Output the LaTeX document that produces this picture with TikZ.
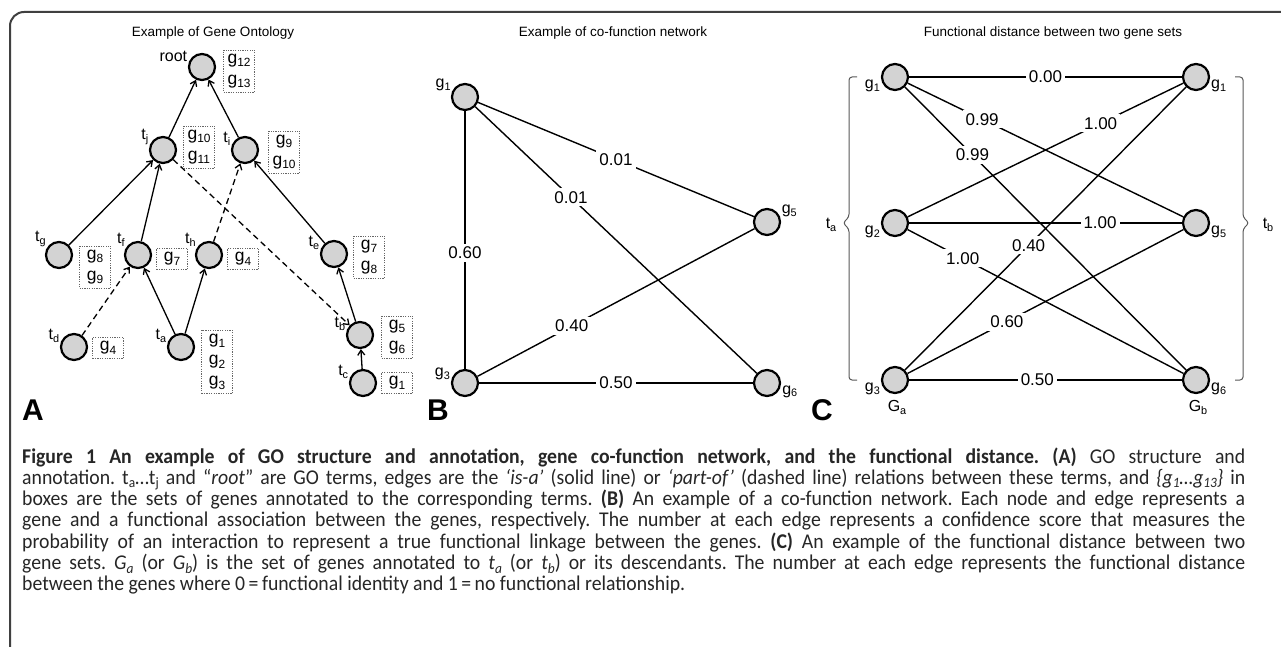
\documentclass[tikz,border=0pt]{standalone}
\usepackage{fontspec}
\setmainfont{Liberation Sans}
\newfontfamily\capfont{Carlito}[FakeStretch=0.94]
\usepackage{graphicx}
\usetikzlibrary{arrows.meta}
\definecolor{nodegray}{RGB}{211,211,211}
\newcommand{\sbs}[1]{\raisebox{-0.35ex}{\scalebox{0.68}{#1}}}
\newcommand{\capjust}[1]{\makebox[1223pt][s]{#1}}
\frenchspacing

\begin{document}
\begin{tikzpicture}[x=1pt, y=-1pt,
  gnode/.style={draw, circle, fill=nodegray, line width=2.2pt, minimum size=26pt, inner sep=0pt},
  lab/.style={font=\fontsize{16}{16}\selectfont, inner sep=1pt},
  genebox/.style={draw=black!60, line width=0.8pt, dash pattern=on 1.2pt off 1.2pt, align=center,
    font=\fontsize{17.5}{21}\selectfont, minimum width=31pt, inner xsep=3pt, inner ysep=4pt},
  isa/.style={line width=1.3pt, -{Straight Barb[length=5pt,width=7pt]}},
  partof/.style={isa, dash pattern=on 6pt off 4pt},
  fedge/.style={line width=1.4pt},
  wlab/.style={fill=white, inner sep=3pt, font=\fontsize{17}{17}\selectfont},
  ttl/.style={font=\fontsize{13.5}{14}\selectfont},
  plet/.style={font=\fontsize{30}{30}\selectfont\bfseries},
  brk/.style={line width=1pt, black!65, rounded corners=3pt},
  capline/.style={anchor=base west, inner sep=0pt, text=black!85, font=\capfont\fontsize{21}{21}\selectfont}]
\useasboundingbox (0,0) rectangle (1281,647);
\fill[white] (0,0) rectangle (1281,647);
\draw[line width=2pt, black!75, rounded corners=14pt] (10,647) -- (10,12) -- (1281,12);

% panel A: gene ontology
\node[ttl] (titleA) at (213,33) {Example of Gene Ontology};
\node[gnode, label={[lab]165:root}] (Troot) at (202,67) {};
\node[gnode, label={[lab]165:t\sbs{j}}] (Tj) at (163,150) {};
\node[gnode, label={[lab]165:t\sbs{i}}] (Ti) at (245,150) {};
\node[gnode, label={[lab]150:t\sbs{g}}] (Tg) at (59,255) {};
\node[gnode, label={[lab]150:t\sbs{f}}] (Tf) at (138,255) {};
\node[gnode, label={[lab]150:t\sbs{h}}] (Th) at (209,255) {};
\node[gnode, label={[lab]165:t\sbs{e}}] (Te) at (334,254) {};
\node[gnode, label={[lab]165:t\sbs{d}}] (Td) at (74,347) {};
\node[gnode, label={[lab]165:t\sbs{a}}] (Ta) at (181,347) {};
\node[gnode, label={[lab]165:t\sbs{b}}] (Tb) at (360,335) {};
\node[gnode, label={[lab]165:t\sbs{c}}] (Tc) at (363,383) {};
\node[genebox] (Broot) at (239,71) {g\sbs{12}\\g\sbs{13}};
\node[genebox] (Bj) at (199,147) {g\sbs{10}\\g\sbs{11}};
\node[genebox] (Bi) at (284,152) {g\sbs{9}\\g\sbs{10}};
\node[genebox] (Bg) at (95,267) {g\sbs{8}\\g\sbs{9}};
\node[genebox] (Bf) at (172,259) {g\sbs{7}};
\node[genebox] (Bh) at (243,259) {g\sbs{4}};
\node[genebox] (Be) at (369,257) {g\sbs{7}\\g\sbs{8}};
\node[genebox] (Bd) at (108,348) {g\sbs{4}};
\node[genebox] (Ba) at (217,362) {g\sbs{1}\\g\sbs{2}\\g\sbs{3}};
\node[genebox] (Bb) at (397,337) {g\sbs{5}\\g\sbs{6}};
\node[genebox] (Bc) at (397,383) {g\sbs{1}};
\draw[isa] (Tj) -- (Troot);
\draw[isa] (Ti) -- (Troot);
\draw[isa] (Tg) -- (Tj);
\draw[isa] (Tf) -- (Tj);
\draw[isa] (Te) -- (Ti);
\draw[isa] (Ta) -- (Tf);
\draw[isa] (Ta) -- (Th);
\draw[isa] (Tb) -- (Te);
\draw[isa] (Tc) -- (Tb);
\draw[partof] (Td) -- (Tf);
\draw[partof] (Th) -- (Ti);
\draw[partof] (Tj) -- (Tb);
\node[plet] (letA) at (33,410) {A};

% panel B: co-function network
\node[ttl] (titleB) at (613,33) {Example of co-function network};
\node[gnode, label={[lab]160:g\sbs{1}}] (B1) at (465,97) {};
\node[gnode, label={[lab]15:g\sbs{5}}] (B5) at (767,222) {};
\node[gnode, label={[lab]172:g\sbs{3}}] (B3) at (465,383) {};
\node[gnode, label={[lab]355:g\sbs{6}}] (B6) at (767,383) {};
\draw[fedge] (B1) -- node[wlab] {0.01} (B5);
\draw[fedge] (B1) -- node[wlab, pos=0.34] {0.01} (B6);
\draw[fedge] (B1) -- node[wlab, pos=0.55] {0.60} (B3);
\draw[fedge] (B3) -- node[wlab, pos=0.34] {0.40} (B5);
\draw[fedge] (B3) -- node[wlab] {0.50} (B6);
\node[plet] (letB) at (438,410) {B};

% panel C: functional distance
\node[ttl] (titleC) at (1053,33) {Functional distance between two gene sets};
\node[gnode, label={[lab]188:g\sbs{1}}] (CL1) at (895,77) {};
\node[gnode, label={[lab]188:g\sbs{2}}] (CL2) at (895,223) {};
\node[gnode, label={[lab]188:g\sbs{3}}] (CL3) at (895,380) {};
\node[gnode, label={[lab]352:g\sbs{1}}] (CR1) at (1196,77) {};
\node[gnode, label={[lab]352:g\sbs{5}}] (CR5) at (1196,223) {};
\node[gnode, label={[lab]352:g\sbs{6}}] (CR6) at (1196,380) {};
\draw[fedge] (CL1) -- node[wlab] {0.00} (CR1);
\draw[fedge] (CL1) -- node[wlab, pos=0.27] {0.99} (CR5);
\draw[fedge] (CL1) -- node[wlab, pos=0.24] {0.99} (CR6);
\draw[fedge] (CL2) -- node[wlab, pos=0.7] {1.00} (CR1);
\draw[fedge] (CL3) -- node[wlab, pos=0.44] {0.40} (CR1);
\draw[fedge] (CL2) -- node[wlab, pos=0.7] {1.00} (CR5);
\draw[fedge] (CL2) -- node[wlab, pos=0.2] {1.00} (CR6);
\draw[fedge] (CL3) -- node[wlab, pos=0.36] {0.60} (CR5);
\draw[fedge] (CL3) -- node[wlab, pos=0.47] {0.50} (CR6);
\draw[brk] (857,77) -- (849,77) -- (849,217) -- (843,223) -- (849,229) -- (849,380) -- (857,380);
\draw[brk] (1235,77) -- (1243,77) -- (1243,217) -- (1249,223) -- (1243,229) -- (1243,380) -- (1235,380);
\node[lab] (setA) at (831,225) {t\sbs{a}};
\node[lab] (setB) at (1268,225) {t\sbs{b}};
\node[lab] (GA) at (897,407) {G\sbs{a}};
\node[lab] (GB) at (1198,407) {G\sbs{b}};
\node[plet] (letC) at (822,410) {C};

% caption, one node per line
\node[capline] (cap1) at (22,463) {\capjust{{\bfseries Figure 1 An example of GO structure and annotation, gene co-function network, and the functional distance. (A)} GO structure and}};
\node[capline] (cap2) at (22,484.3) {\capjust{annotation. t\sbs{a}…t\sbs{j} and “\textit{root}” are GO terms, edges are the \textit{‘is-a’} (solid line) or \textit{‘part-of’} (dashed line) relations between these terms, and \textit{\{g\sbs{1}…g\sbs{13}\}} in}};
\node[capline] (cap3) at (22,505.6) {\capjust{boxes are the sets of genes annotated to the corresponding terms. \textbf{(B)} An example of a co-function network. Each node and edge represents a}};
\node[capline] (cap4) at (22,526.9) {\capjust{gene and a functional association between the genes, respectively. The number at each edge represents a confidence score that measures the}};
\node[capline] (cap5) at (22,548.2) {\capjust{probability of an interaction to represent a true functional linkage between the genes. \textbf{(C)} An example of the functional distance between two}};
\node[capline] (cap6) at (22,569.5) {\capjust{gene sets. \textit{G\sbs{a}} (or \textit{G\sbs{b}}) is the set of genes annotated to \textit{t\sbs{a}} (or \textit{t\sbs{b}}) or its descendants. The number at each edge represents the functional distance}};
\node[capline] (cap7) at (22,590.8) {between the genes where 0\,=\,functional identity and 1\,=\,no functional relationship.};
\end{tikzpicture}
\end{document}
